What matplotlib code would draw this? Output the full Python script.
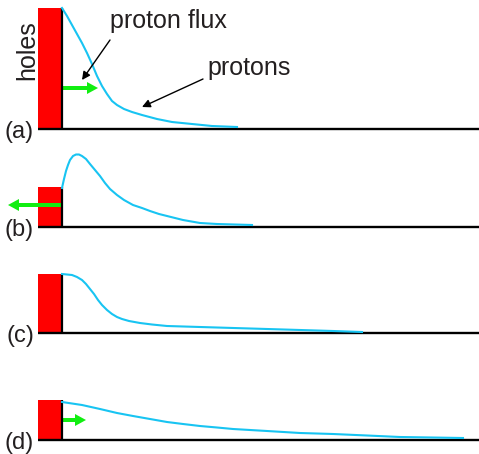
import matplotlib
matplotlib.use("Agg")
import matplotlib.pyplot as plt

plt.rcParams['font.family'] = ['Liberation Sans', 'DejaVu Sans']

# proton concentration profiles, distance from the hole wall vs. height
dist_a = [0, 5, 10, 15, 20, 25, 30, 35, 40, 45, 50, 55, 62, 70, 80, 95, 110, 130, 150, 175]
prot_a = [121, 113, 104, 95, 86, 76, 65, 53, 43, 35, 28, 24, 20, 17, 14, 10, 7, 5, 3, 2]

dist_b = [0, 2, 4, 6, 8, 11, 14, 17, 20, 24, 28, 33, 38, 43, 48, 55, 62, 71, 80, 88,
          97, 105, 121, 138, 155, 190]
prot_b = [39, 48, 56, 62, 67, 71, 72.5, 72.5, 71, 68, 63, 57, 51, 44, 38, 32, 27, 22, 19, 16,
          13, 11, 7, 4, 3, 2]

dist_c = [0, 5, 10, 15, 20, 24, 28, 32, 36, 40, 45, 50, 55, 60, 67, 78, 90, 105, 138, 205,
          271, 300]
prot_c = [59, 58.5, 58, 56, 53, 49, 44, 39, 33, 28, 23, 19, 16, 14, 12, 10, 8.5, 7, 6, 4,
          2, 1]

dist_d = [0, 20, 38, 55, 71, 88, 105, 121, 138, 155, 171, 205, 238, 271, 305, 338, 370, 401]
prot_d = [38, 35, 31, 27, 24, 21, 18, 16, 14, 12.5, 11, 9, 7, 6, 4.5, 3, 2.5, 2]

holes = [121, 40, 59, 40]          # hole concentration (red block height)
flux = [36, -54, 0, 24]            # proton flux arrow (sign = direction)
flux_h = [41, 22, 0, 20]           # where the flux arrow is drawn
labels = ['(a)', '(b)', '(c)', '(d)']
profiles = [(dist_a, prot_a), (dist_b, prot_b), (dist_c, prot_c), (dist_d, prot_d)]

baselines = [129, 227, 333, 440]   # panel baseline, pixels from top
W, H = 479, 454
fig = plt.figure(figsize=(W / 100, H / 100), dpi=100)

cyan = '#18c4f2'
green = '#11ee11'
txt = '#231f20'

axes = []
for i, (xs, ys) in enumerate(profiles):
    yb = baselines[i]
    ax = fig.add_axes([0, (H - yb - 15) / H, 1, 140 / H])
    ax.set_xlim(-62, 417)
    ax.set_ylim(-15, 125)
    ax.axis('off')
    # holes block
    ax.bar(-24, holes[i], width=24, align='edge', color='#ff0000', lw=0)
    ax.plot([0, 0], [0, holes[i]], color='black', lw=1.6, solid_capstyle='butt')
    # baseline
    ax.plot([-24, 417], [0, 0], color='black', lw=1.7, solid_capstyle='butt')
    # protons
    ax.plot(xs, ys, color=cyan, lw=1.5)
    if flux[i] != 0:
        ax.arrow(0, flux_h[i], flux[i], 0, width=4, head_width=12, head_length=11,
                 length_includes_head=True, color=green, lw=0)
    ax.text(-28, -3, labels[i], ha='right', va='center', fontsize=17, color=txt)
    axes.append(ax)

ax = axes[0]
ax.text(-35, 79, 'holes', rotation=90, ha='center', va='center', fontsize=18, color=txt)
ax.text(48, 101, 'proton flux', ha='left', va='baseline', fontsize=18, color=txt)
ax.annotate('', xy=(20, 49), xytext=(48, 89), annotation_clip=False,
            arrowprops=dict(arrowstyle='-|>', lw=1, color='black', mutation_scale=12,
                            shrinkA=0, shrinkB=0))
ax.text(145, 54, 'protons', ha='left', va='baseline', fontsize=18, color=txt)
ax.annotate('', xy=(80, 22), xytext=(141, 50), annotation_clip=False,
            arrowprops=dict(arrowstyle='-|>', lw=1, color='black', mutation_scale=12,
                            shrinkA=0, shrinkB=0))

fig.savefig('out.png', dpi=100)
